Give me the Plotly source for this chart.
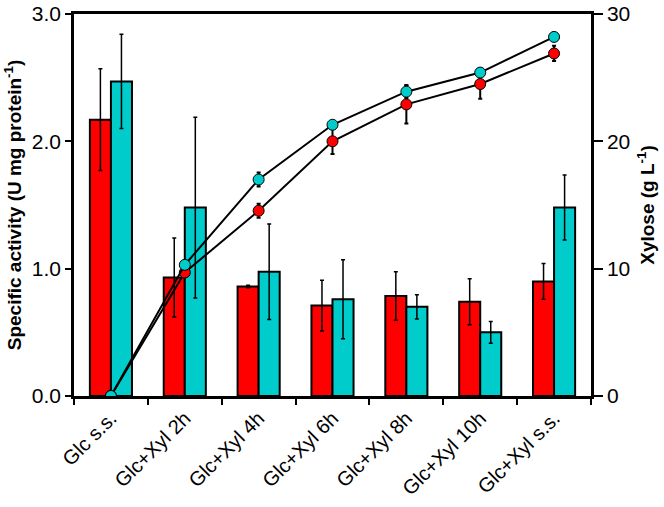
import plotly.graph_objects as go

categories = ["Glc s.s.", "Glc+Xyl 2h", "Glc+Xyl 4h", "Glc+Xyl 6h",
              "Glc+Xyl 8h", "Glc+Xyl 10h", "Glc+Xyl s.s."]

# Specific activity (left axis)
red_act = [2.17, 0.93, 0.86, 0.71, 0.785, 0.74, 0.90]
red_act_err = [0.40, 0.31, 0.01, 0.20, 0.19, 0.18, 0.14]
cyan_act = [2.47, 1.48, 0.975, 0.76, 0.70, 0.50, 1.48]
cyan_act_err = [0.37, 0.71, 0.375, 0.31, 0.095, 0.085, 0.255]

# Xylose (right axis)
red_xyl = [0.0, 9.7, 14.55, 20.0, 22.9, 24.5, 26.9]
red_xyl_err = [0.0, 0.3, 0.55, 1.0, 1.5, 1.15, 0.6]
cyan_xyl = [0.0, 10.3, 17.0, 21.3, 23.9, 25.4, 28.2]
cyan_xyl_err = [0.0, 0.2, 0.55, 0.3, 0.5, 0.3, 0.3]

RED = "#ff0000"
CYAN = "#00cccc"
FONT = "Liberation Sans, Arial, sans-serif"

fig = go.Figure()

fig.add_trace(go.Bar(
    x=categories, y=red_act, marker=dict(color=RED, line=dict(color="black", width=2)),
    error_y=dict(type="data", array=red_act_err, color="black", thickness=1.5, width=2),
    yaxis="y", showlegend=False))
fig.add_trace(go.Bar(
    x=categories, y=cyan_act, marker=dict(color=CYAN, line=dict(color="black", width=2)),
    error_y=dict(type="data", array=cyan_act_err, color="black", thickness=1.5, width=2),
    yaxis="y", showlegend=False))

fig.add_trace(go.Scatter(
    x=categories, y=red_xyl, mode="lines+markers", yaxis="y2",
    line=dict(color="black", width=2),
    marker=dict(color=RED, size=11, line=dict(color="black", width=1)),
    error_y=dict(type="data", array=red_xyl_err, color="black", thickness=2, width=2),
    showlegend=False))
fig.add_trace(go.Scatter(
    x=categories, y=cyan_xyl, mode="lines+markers", yaxis="y2",
    line=dict(color="black", width=2),
    marker=dict(color=CYAN, size=11, line=dict(color="black", width=1)),
    error_y=dict(type="data", array=cyan_xyl_err, color="black", thickness=2, width=2),
    showlegend=False))

fig.update_layout(
    width=664, height=507,
    margin=dict(l=74, r=73, t=14, b=111, autoexpand=False),
    paper_bgcolor="white", plot_bgcolor="white",
    font=dict(family=FONT, color="black"),
    barmode="group", bargap=0.43, bargroupgap=0,
    xaxis=dict(
        type="category", tickson="boundaries", ticks="outside", ticklen=6, tickwidth=2,
        tickcolor="black", showline=True, linecolor="black", linewidth=2.5, mirror=True,
        tickangle=-45, tickfont=dict(size=20, family=FONT), showgrid=False, zeroline=False,
        automargin=False,
    ),
    yaxis=dict(
        range=[0, 3.0], tickvals=[0, 1, 2, 3], ticktext=["0.0", "1.0", "2.0", "3.0"],
        ticks="outside", ticklen=6, tickwidth=2, tickcolor="black",
        showline=True, linecolor="black", linewidth=2.5, showgrid=False, zeroline=False,
        tickfont=dict(size=21, family=FONT), automargin=False,
        title=dict(text="<b>Specific activity (U mg protein<sup>-1</sup>)</b>",
                   font=dict(size=19, family=FONT), standoff=6),
    ),
    yaxis2=dict(
        range=[0, 30], tickvals=[0, 10, 20, 30], overlaying="y", side="right",
        ticks="outside", ticklen=9, tickwidth=2, tickcolor="black",
        showline=True, linecolor="black", linewidth=2.5, showgrid=False, zeroline=False,
        tickfont=dict(size=21, family=FONT), automargin=False,
        title=dict(text="<b>Xylose (g L<sup>-1</sup>)</b>",
                   font=dict(size=19, family=FONT), standoff=12),
    ),
)

fig.write_html("out.html", config={"displayModeBar": False},
               post_script="document.body.style.margin='0';document.body.style.overflow='hidden';")
